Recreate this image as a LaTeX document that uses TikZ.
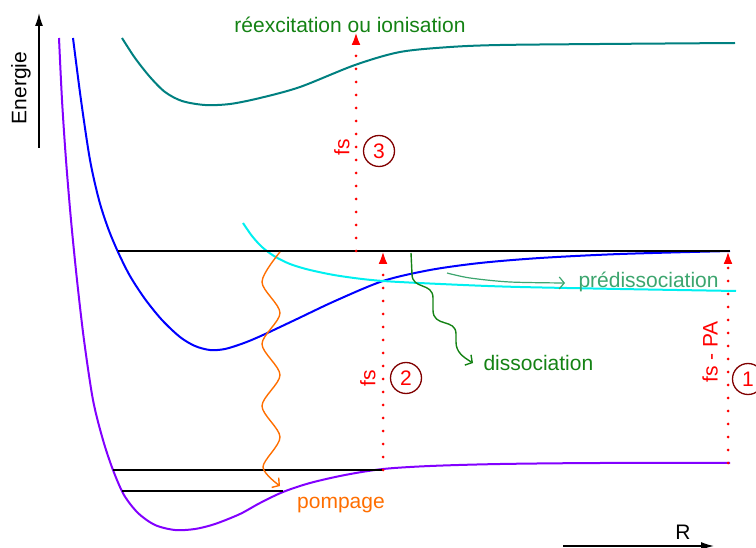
\documentclass[tikz,border=0pt]{standalone}
\usepackage{fontspec}
\setmainfont{Liberation Sans}
\usetikzlibrary{arrows,arrows.meta,positioning}
\definecolor{maroon}{RGB}{128,0,0}
\definecolor{vtealc}{RGB}{0,128,128}
\definecolor{vviolet}{RGB}{130,0,255}
\definecolor{vcyan}{RGB}{0,240,240}
\definecolor{vorange}{RGB}{255,110,0}
\definecolor{vgreen}{RGB}{20,130,20}
\definecolor{vsea}{RGB}{60,165,110}
\tikzset{
   curve/.style={line width=2pt},
   level/.style={draw=black, line width=1.5pt},
   axis/.style={draw=black, line width=1.5pt, -{Latex[length=13pt,width=8pt]}},
   laser/.style={red, line width=3pt, line cap=round, dash pattern=on 0pt off 13pt, -{Latex[length=13pt,width=9pt]}},
   num/.style={circle, draw=maroon, line width=1.3pt, text=red, minimum size=31pt, inner sep=0pt},
   pulse/.style={red, rotate=90},
   wave/.style={line width=1.4pt, -{Straight Barb[length=5pt,width=12pt]}},
   >=latex
}
\begin{document}
\begin{tikzpicture}[x=1pt, y=-1pt, every node/.style={font=\fontsize{21}{25}\selectfont}]
  \useasboundingbox (0,0) rectangle (756,548);

  \coordinate (e bottom) at (39,148);
  \coordinate (e top)    at (39,13);
  \coordinate (r left)   at (563,546);
  \coordinate (r right)  at (714,546);
  \draw[axis] (e bottom) -- (e top);
  \draw[axis] (r left) -- (r right);
  \node[rotate=90] at (21,88)  (energie) {Energie};
  \node            at (683,532) (rlabel)  {R};

  \draw[curve, vtealc] plot[smooth] coordinates {(122,38) (135,58) (150,77) (165,92) (182,101) (205,105) (230,104) (260,98) (300,87) (355,65) (400,52) (450,47) (500,45) (600,44) (735,43)};
  \draw[curve, blue] plot[smooth] coordinates {(73,38) (81,100) (90,160) (99,200) (108,228) (118,252) (130,276) (145,299) (162,320) (180,337) (195,346) (210,350) (225,349) (244,343) (263,335) (297,319) (335,301) (383,281) (430,270) (480,263) (540,258) (620,254) (730,251)};
  \draw[curve, vcyan] plot[smooth] coordinates {(243,223) (252,236) (262,247) (274,256) (290,264) (310,270) (340,276) (383,281) (463,285) (520,287) (620,289) (736,291)};
  \draw[curve, vviolet] plot[smooth] coordinates {(59,38) (62,100) (66,160) (71,220) (77,280) (84,340) (93,400) (103,440) (113,470) (124,495) (138,513) (155,525) (175,530) (195,529) (215,524) (240,514) (260,503) (283,492) (310,483) (345,475) (383,469) (430,466) (500,464) (600,463) (730,463)};

  \coordinate (top left)  at (118,251);
  \coordinate (top right) at (730,251);
  \coordinate (v1 left)   at (113,470);
  \coordinate (v1 right)  at (383,470);
  \coordinate (v0 left)   at (122,491);
  \coordinate (v0 right)  at (283,491);
  \draw[level] (top left) -- (top right);
  \draw[level] (v1 left) -- (v1 right);
  \draw[level] (v0 left) -- (v0 right);

  \coordinate (pa start)  at (728,463);
  \coordinate (pa end)    at (728,251);
  \coordinate (ion start) at (356,251);
  \coordinate (ion end)   at (356,32);
  \draw[laser] (v1 right) -- (top left -| v1 right);
  \draw[laser] (pa start) -- (pa end);
  \draw[laser] (ion start) -- (ion end);

  \node[pulse] at (342,147) (fs three) {fs};
  \node[num]   at (379,151) (three)    {3};
  \node[pulse] at (368,378) (fs two)   {fs};
  \node[num]   at (406,378) (two)      {2};
  \node[pulse] at (710,352) (fs one)   {fs - PA};
  \node[num]   at (748,379) (one)      {1};

  \node[vgreen, anchor=base] at (350,33) (reex) {réexcitation ou ionisation};

  \draw[wave, vorange] plot[smooth] coordinates {(280,252) (262,282) (280,313) (262,344) (280,375) (262,406) (280,437) (263,467) (280,486)};
  \node[vorange, anchor=base] at (341,508) (pompage) {pompage};

  \coordinate (dis start) at (411,253);
  \coordinate (dis end)   at (473,363);
  \draw[wave, vgreen] (dis start) -- (412,274) .. controls (412,290) and (433,282) .. (433,298)
     -- (433,310) .. controls (433,328) and (456,318) .. (456,334)
     -- (456,342) .. controls (456,352) and (463,357) .. (dis end);
  \node[vgreen, anchor=base west] at (480,371) (dissoc) {dissociation};

  \draw[wave, vsea, line width=1.2pt] plot[smooth] coordinates {(447,273) (470,278) (510,282) (565,283)};
  \node[vsea, anchor=base west] at (575,288) (predissoc) {prédissociation};

\end{tikzpicture}
\end{document}
